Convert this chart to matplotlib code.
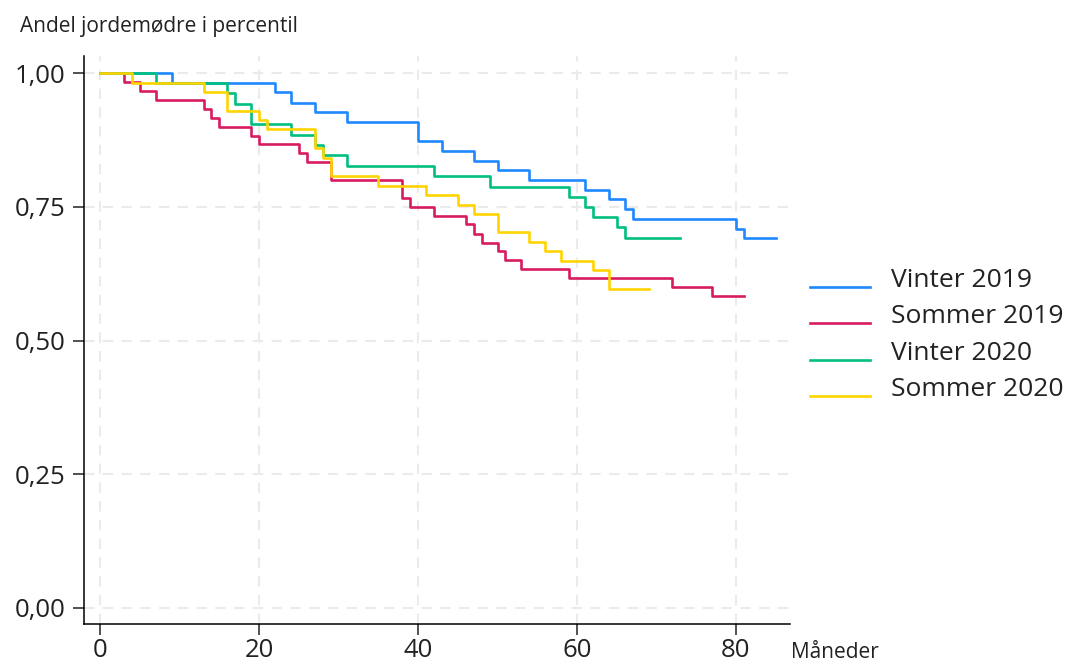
import matplotlib

matplotlib.use("Agg")

import matplotlib.pyplot as plt
from matplotlib.lines import Line2D

plt.rcParams["font.family"] = ["Open Sans", "DejaVu Sans"]

W, H = 1066, 666

# months at each step, survival share after the step (last point = end of follow-up)
vinter19_t = [0, 9, 22, 24, 27, 31, 40, 43, 47, 50, 54, 61, 64, 66, 67, 80, 81, 85]
vinter19_s = [1.0, 0.982, 0.964, 0.945, 0.927, 0.909, 0.873, 0.855, 0.836, 0.818,
              0.800, 0.782, 0.764, 0.745, 0.727, 0.709, 0.691, 0.691]

sommer19_t = [0, 3, 5, 7, 13, 14, 15, 19, 20, 25, 26, 29, 38, 39, 42, 46, 47, 48,
              50, 51, 53, 59, 72, 77, 81]
sommer19_s = [1.0, 0.983, 0.967, 0.950, 0.933, 0.917, 0.900, 0.883, 0.867, 0.850,
              0.833, 0.800, 0.767, 0.750, 0.733, 0.717, 0.700, 0.683, 0.667, 0.650,
              0.633, 0.617, 0.600, 0.583, 0.583]

vinter20_t = [0, 7, 16, 17, 19, 24, 27, 28, 31, 42, 49, 59, 61, 62, 65, 66, 73]
vinter20_s = [1.0, 0.981, 0.962, 0.942, 0.904, 0.885, 0.865, 0.846, 0.827, 0.808,
              0.788, 0.769, 0.750, 0.731, 0.712, 0.692, 0.692]

sommer20_t = [0, 4, 13, 16, 20, 21, 27, 28, 29, 35, 41, 45, 47, 50, 54, 56, 58, 62, 64, 69]
sommer20_s = [1.0, 0.982, 0.965, 0.930, 0.912, 0.895, 0.860, 0.842, 0.807, 0.789,
              0.772, 0.754, 0.737, 0.702, 0.684, 0.667, 0.649, 0.632, 0.596, 0.596]

labels = ["Vinter 2019", "Sommer 2019", "Vinter 2020", "Sommer 2020"]
colors = ["#1e88ff", "#d81b60", "#00bf7f", "#ffd400"]

x_ticks = [0, 20, 40, 60, 80]
y_ticks = [0.0, 0.25, 0.5, 0.75, 1.0]
y_tick_labels = ["0,00", "0,25", "0,50", "0,75", "1,00"]

fig = plt.figure(figsize=(W / 100, H / 100), dpi=100)
ax = fig.add_axes([83.5 / W, 1 - 624 / H, (790 - 83.5) / W, (624 - 56) / H])

series = [
    (vinter19_t, vinter19_s),
    (sommer19_t, sommer19_s),
    (vinter20_t, vinter20_s),
    (sommer20_t, sommer20_s),
]
for (t, s), c in zip(series, colors):
    ax.step(t, s, where="post", color=c, linewidth=1.9, zorder=3)

ax.set_xlim(-2.1, 86.8)
ax.set_ylim(-0.03, 1.032)
ax.set_xticks(x_ticks)
ax.set_yticks(y_ticks)
ax.set_yticklabels(y_tick_labels)

ax.grid(True, color="#ebebeb", linewidth=1.5, linestyle=(0, (5, 4)), zorder=0)
for side in ["top", "right"]:
    ax.spines[side].set_visible(False)
for side in ["left", "bottom"]:
    ax.spines[side].set_linewidth(1.1)
    ax.spines[side].set_color("black")
ax.tick_params(axis="both", length=7.6, width=1.1, labelsize=18.5,
               labelcolor="#222222", color="#222222")
ax.tick_params(axis="y", pad=5.5)
ax.tick_params(axis="x", pad=2.5)

fig.text(20 / W, 1 - 32 / H, "Andel jordemødre i percentil", fontsize=15,
         color="#222222", va="baseline", ha="left")
fig.text(791 / W, 1 - 658 / H, "Måneder", fontsize=15, color="#222222",
         va="baseline", ha="left")

# legend drawn by hand so the key lines sit on the text baseline
for i, (lab, c) in enumerate(zip(labels, colors)):
    yy = 1 - (286.7 + 36.5 * i) / H
    fig.add_artist(Line2D([810 / W, 870 / W], [yy, yy], color=c, linewidth=1.9,
                          transform=fig.transFigure))
    fig.text(891 / W, yy, lab, fontsize=19, color="#222222", va="baseline", ha="left")

fig.savefig("out.png", dpi=100)
